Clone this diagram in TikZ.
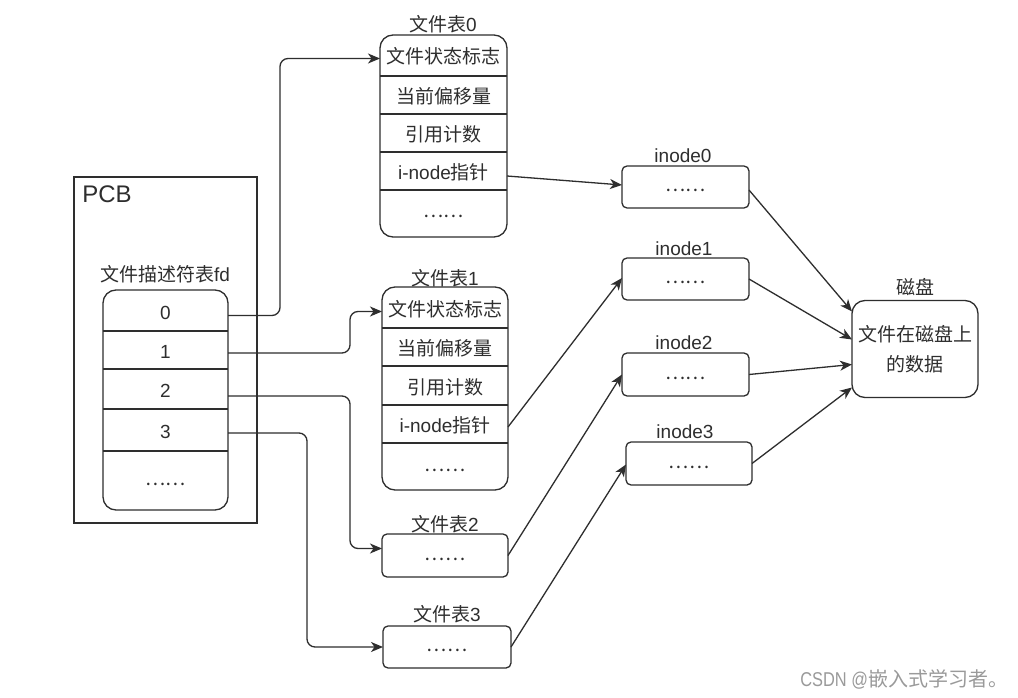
\documentclass[tikz,border=0pt]{standalone}
\usepackage{fontspec}
\setmainfont{Liberation Sans}
\newfontfamily\cjk{Noto Sans CJK SC}
\usetikzlibrary{arrows.meta}
\definecolor{ink}{HTML}{2E2E2E}
\definecolor{wm}{HTML}{9A9A9A}
\newcommand\zh[1]{{\cjk #1}}
\newcommand\mydots{\raisebox{4pt}{\zh{……}}}
\begin{document}
\begin{tikzpicture}[x=1pt,y=-1pt,
  every node/.style={inner sep=0pt, outer sep=0pt, text=ink, font=\fontsize{19}{22}\selectfont},
  line/.style={draw=ink, line width=1.3pt},
  arr/.style={line, -{Stealth[length=12pt,width=10pt,inset=3.5pt]}, rounded corners=8pt},
  bigbox/.style={line, rounded corners=13pt},
  smallbox/.style={line, rounded corners=5pt},
  cell/.style 2 args={minimum width=#1, minimum height=#2, anchor=north, text height=17pt, text depth=0pt},
  ttl/.style={anchor=center},
  txt/.style={text height=17pt, text depth=0pt},
]
\useasboundingbox (0,0) rectangle (1018,698);
\fill[white] (0,0) rectangle (1018,698);

% PCB
\node[line, draw, minimum width=183, minimum height=346] (pcb) at (165.5,350) {};
\node[font=\fontsize{24}{28}\selectfont] (pcbt) at (107,194.5) {PCB};
\node[ttl] (fdt) at (165,274) {\zh{文件描述符表}fd};

% fd table
\node[bigbox, draw, minimum width=125, minimum height=220] (fd) at (165.5,400) {};
\node[cell={125}{41}] (fd0) at (165.5,290) {0};
\node[cell={125}{38}] (fd1) at (165.5,331) {1};
\node[cell={125}{40}] (fd2) at (165.5,369) {2};
\node[cell={125}{42}] (fd3) at (165.5,409) {3};
\node[cell={125}{59}] (fd4) at (165.5,451) {\mydots};
\foreach \r in {fd0,fd1,fd2,fd3}{\draw[line] (\r.south west) -- (\r.south east);}

% file table 0
\node[ttl] (ft0t) at (443,24) {\zh{文件表}0};
\node[bigbox, draw, minimum width=127, minimum height=202] (ft0) at (443.5,136) {};
\node[cell={127}{41}] (ft0r1) at (443.5,35) {\zh{文件状态标志}};
\node[cell={127}{38}] (ft0r2) at (443.5,76) {\zh{当前偏移量}};
\node[cell={127}{38}] (ft0r3) at (443.5,114) {\zh{引用计数}};
\node[cell={127}{38}] (ft0r4) at (443.5,152) {i-node\zh{指针}};
\node[cell={127}{47}] (ft0r5) at (443.5,190) {\mydots};
\foreach \r in {ft0r1,ft0r2,ft0r3,ft0r4}{\draw[line] (\r.south west) -- (\r.south east);}

% file table 1
\node[ttl] (ft1t) at (445,278) {\zh{文件表}1};
\node[bigbox, draw, minimum width=126, minimum height=203] (ft1) at (445,388.5) {};
\node[cell={126}{41}] (ft1r1) at (445,287) {\zh{文件状态标志}};
\node[cell={126}{38}] (ft1r2) at (445,328) {\zh{当前偏移量}};
\node[cell={126}{39}] (ft1r3) at (445,366) {\zh{引用计数}};
\node[cell={126}{38}] (ft1r4) at (445,405) {i-node\zh{指针}};
\node[cell={126}{47}] (ft1r5) at (445,443) {\mydots};
\foreach \r in {ft1r1,ft1r2,ft1r3,ft1r4}{\draw[line] (\r.south west) -- (\r.south east);}

% file table 2, 3
\node[ttl] (ft2t) at (445,524) {\zh{文件表}2};
\node[smallbox, draw, txt, minimum width=126, minimum height=43] (ft2) at (445,555.5) {\mydots};
\node[ttl] (ft3t) at (447,614) {\zh{文件表}3};
\node[smallbox, draw, txt, minimum width=128, minimum height=42] (ft3) at (447,647) {\mydots};

% inodes
\node[ttl] (in0t) at (683,156) {inode0};
\node[smallbox, draw, txt, minimum width=127, minimum height=42] (in0) at (685.5,187) {\mydots};
\node[ttl] (in1t) at (684,249) {inode1};
\node[smallbox, draw, txt, minimum width=127, minimum height=42] (in1) at (685.5,279) {\mydots};
\node[ttl] (in2t) at (684,343) {inode2};
\node[smallbox, draw, txt, minimum width=127, minimum height=43] (in2) at (685.5,374.5) {\mydots};
\node[ttl] (in3t) at (685,432) {inode3};
\node[smallbox, draw, txt, minimum width=126, minimum height=43] (in3) at (689,463.5) {\mydots};

% disk
\node[ttl] (diskt) at (915,287.5) {\zh{磁盘}};
\node[bigbox, draw, minimum width=126, minimum height=97, align=center,
      font=\fontsize{19}{30}\selectfont\cjk] (disk) at (915,349) {文件在磁盘上\\的数据};

% fd -> file tables
\draw[arr] ([yshift=-5pt]fd0.east) -- ++(52,0) |- ([yshift=-3pt]ft0r1.west);
\draw[arr] ([yshift=-3pt]fd1.east) -- ++(122,0) |- ([yshift=-4pt]ft1r1.west);
\draw[arr] ([yshift=-7pt]fd2.east) -- ++(122,0) |- ([yshift=7pt]ft2.west);
\draw[arr] ([yshift=-3pt]fd3.east) -- ++(79,0) |- (ft3.west);

% file tables -> inodes
\draw[arr] ([yshift=-5pt]ft0r4.east) -- ([yshift=2pt]in0.west);
\draw[arr] ([yshift=-3pt]ft1r4.east) -- ([yshift=1pt]in1.west);
\draw[arr] (ft2.east) -- (in2.west);
\draw[arr] (ft3.east) -- ([yshift=-1pt]in3.west);

% inodes -> disk
\draw[arr] ([yshift=-3pt]in0.east) -- ([yshift=37.5pt]disk.west);
\draw[arr] (in1.east) -- ([yshift=9.5pt]disk.west);
\draw[arr] (in2.east) -- ([yshift=-15.5pt]disk.west);
\draw[arr] (in3.east) -- ([yshift=-38.5pt]disk.west);

% watermark
\node[text=wm, font=\fontsize{20}{22}\selectfont, anchor=east] (wmk) at (1008,679.5) {\scalebox{0.82}[1]{CSDN @}\zh{嵌入式学习者。}};
\end{tikzpicture}
\end{document}
